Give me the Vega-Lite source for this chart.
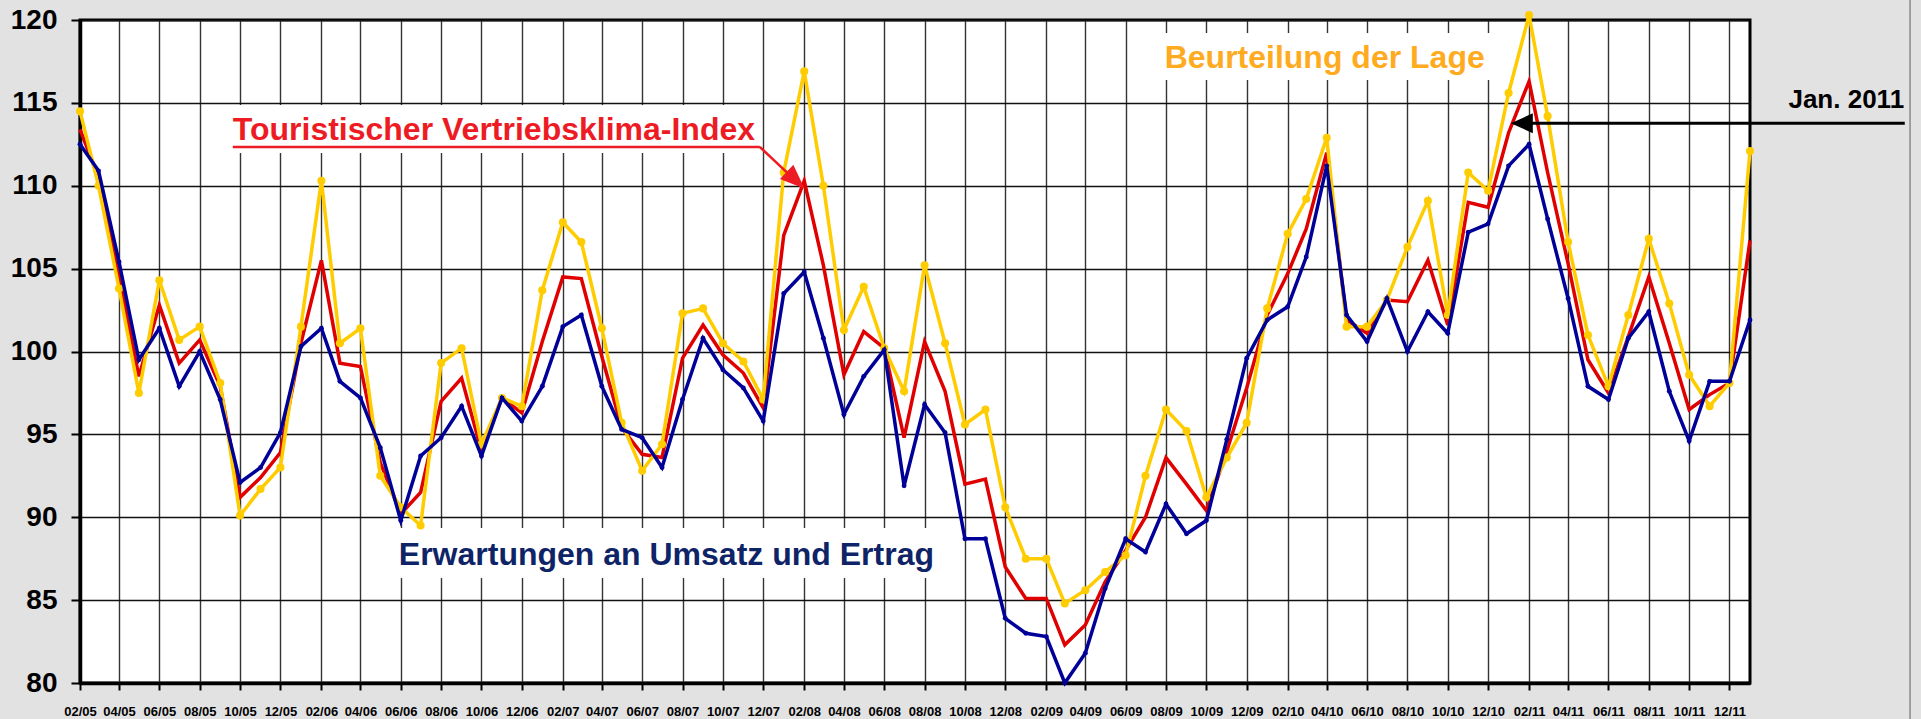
{
  "$schema": "https://vega.github.io/schema/vega-lite/v6.json",
  "width": 1670,
  "height": 663,
  "autosize": {"type": "none"},
  "padding": {"left": 80, "top": 20, "right": 171, "bottom": 36},
  "background": "#E2E2E2",
  "config": {
    "view": {"fill": "white", "stroke": "#000", "strokeWidth": 3},
    "font": "Liberation Sans"
  },
  "datasets": {
    "main": [
      {"d":"2005-02-01","lage":114.5,"index":113.4,"erw":112.5},
      {"d":"2005-03-01","lage":110.0,"index":110.5,"erw":110.9},
      {"d":"2005-04-01","lage":103.8,"index":104.5,"erw":105.4},
      {"d":"2005-05-01","lage":97.5,"index":98.5,"erw":99.5},
      {"d":"2005-06-01","lage":104.3,"index":102.8,"erw":101.4},
      {"d":"2005-07-01","lage":100.7,"index":99.3,"erw":97.9},
      {"d":"2005-08-01","lage":101.5,"index":100.7,"erw":100.0},
      {"d":"2005-09-01","lage":98.1,"index":97.9,"erw":97.1},
      {"d":"2005-10-01","lage":90.1,"index":91.2,"erw":92.1},
      {"d":"2005-11-01","lage":91.7,"index":92.4,"erw":93.0},
      {"d":"2005-12-01","lage":93.0,"index":93.9,"erw":95.1},
      {"d":"2006-01-01","lage":101.5,"index":100.5,"erw":100.3},
      {"d":"2006-02-01","lage":110.3,"index":105.5,"erw":101.4},
      {"d":"2006-03-01","lage":100.5,"index":99.3,"erw":98.2},
      {"d":"2006-04-01","lage":101.4,"index":99.1,"erw":97.2},
      {"d":"2006-05-01","lage":92.5,"index":93.3,"erw":94.2},
      {"d":"2006-06-01","lage":90.6,"index":90.2,"erw":89.8},
      {"d":"2006-07-01","lage":89.5,"index":91.5,"erw":93.7},
      {"d":"2006-08-01","lage":99.3,"index":97.0,"erw":94.8},
      {"d":"2006-09-01","lage":100.2,"index":98.4,"erw":96.7},
      {"d":"2006-10-01","lage":94.4,"index":94.0,"erw":93.7},
      {"d":"2006-11-01","lage":97.2,"index":97.2,"erw":97.2},
      {"d":"2006-12-01","lage":96.7,"index":96.3,"erw":95.8},
      {"d":"2007-01-01","lage":103.7,"index":100.6,"erw":97.9},
      {"d":"2007-02-01","lage":107.8,"index":104.5,"erw":101.5},
      {"d":"2007-03-01","lage":106.6,"index":104.4,"erw":102.2},
      {"d":"2007-04-01","lage":101.4,"index":99.7,"erw":97.9},
      {"d":"2007-05-01","lage":95.7,"index":95.4,"erw":95.3},
      {"d":"2007-06-01","lage":92.8,"index":93.8,"erw":94.8},
      {"d":"2007-07-01","lage":94.4,"index":93.6,"erw":93.0},
      {"d":"2007-08-01","lage":102.3,"index":99.6,"erw":97.1},
      {"d":"2007-09-01","lage":102.6,"index":101.6,"erw":100.8},
      {"d":"2007-10-01","lage":100.5,"index":99.8,"erw":98.9},
      {"d":"2007-11-01","lage":99.4,"index":98.7,"erw":97.8},
      {"d":"2007-12-01","lage":97.1,"index":96.6,"erw":95.8},
      {"d":"2008-01-01","lage":110.8,"index":107.0,"erw":103.5},
      {"d":"2008-02-01","lage":116.9,"index":110.3,"erw":104.8},
      {"d":"2008-03-01","lage":110.0,"index":105.2,"erw":100.8},
      {"d":"2008-04-01","lage":101.3,"index":98.6,"erw":96.2},
      {"d":"2008-05-01","lage":103.9,"index":101.2,"erw":98.5},
      {"d":"2008-06-01","lage":100.2,"index":100.2,"erw":100.1},
      {"d":"2008-07-01","lage":97.6,"index":94.8,"erw":91.9},
      {"d":"2008-08-01","lage":105.2,"index":100.6,"erw":96.8},
      {"d":"2008-09-01","lage":100.5,"index":97.6,"erw":95.1},
      {"d":"2008-10-01","lage":95.6,"index":92.0,"erw":88.7},
      {"d":"2008-11-01","lage":96.5,"index":92.3,"erw":88.7},
      {"d":"2008-12-01","lage":90.6,"index":87.0,"erw":83.9},
      {"d":"2009-01-01","lage":87.5,"index":85.1,"erw":83.0},
      {"d":"2009-02-01","lage":87.5,"index":85.1,"erw":82.8},
      {"d":"2009-03-01","lage":84.8,"index":82.3,"erw":80.0},
      {"d":"2009-04-01","lage":85.6,"index":83.5,"erw":81.8},
      {"d":"2009-05-01","lage":86.7,"index":86.1,"erw":85.7},
      {"d":"2009-06-01","lage":87.7,"index":88.0,"erw":88.7},
      {"d":"2009-07-01","lage":92.5,"index":90.0,"erw":87.9},
      {"d":"2009-08-01","lage":96.5,"index":93.6,"erw":90.8},
      {"d":"2009-09-01","lage":95.2,"index":92.0,"erw":89.0},
      {"d":"2009-10-01","lage":91.2,"index":90.4,"erw":89.8},
      {"d":"2009-11-01","lage":93.6,"index":94.0,"erw":94.7},
      {"d":"2009-12-01","lage":95.7,"index":97.8,"erw":99.6},
      {"d":"2010-01-01","lage":102.6,"index":102.2,"erw":101.9},
      {"d":"2010-02-01","lage":107.1,"index":104.7,"erw":102.7},
      {"d":"2010-03-01","lage":109.2,"index":107.4,"erw":105.7},
      {"d":"2010-04-01","lage":112.9,"index":112.0,"erw":111.2},
      {"d":"2010-05-01","lage":101.5,"index":101.9,"erw":102.2},
      {"d":"2010-06-01","lage":101.5,"index":101.1,"erw":100.6},
      {"d":"2010-07-01","lage":103.1,"index":103.1,"erw":103.2},
      {"d":"2010-08-01","lage":106.3,"index":103.0,"erw":100.0},
      {"d":"2010-09-01","lage":109.1,"index":105.5,"erw":102.4},
      {"d":"2010-10-01","lage":102.2,"index":101.6,"erw":101.1},
      {"d":"2010-11-01","lage":110.8,"index":109.0,"erw":107.2},
      {"d":"2010-12-01","lage":109.7,"index":108.7,"erw":107.7},
      {"d":"2011-01-01","lage":115.6,"index":113.2,"erw":111.2},
      {"d":"2011-02-01","lage":120.3,"index":116.3,"erw":112.5},
      {"d":"2011-03-01","lage":114.2,"index":110.8,"erw":108.0},
      {"d":"2011-04-01","lage":106.6,"index":105.3,"erw":103.2},
      {"d":"2011-05-01","lage":101.0,"index":99.5,"erw":97.9},
      {"d":"2011-06-01","lage":97.9,"index":97.5,"erw":97.1},
      {"d":"2011-07-01","lage":102.2,"index":100.9,"erw":100.8},
      {"d":"2011-08-01","lage":106.8,"index":104.5,"erw":102.4},
      {"d":"2011-09-01","lage":102.9,"index":100.5,"erw":97.6},
      {"d":"2011-10-01","lage":98.6,"index":96.5,"erw":94.6},
      {"d":"2011-11-01","lage":96.7,"index":97.4,"erw":98.2},
      {"d":"2011-12-01","lage":98.1,"index":98.1,"erw":98.2},
      {"d":"2012-01-01","lage":112.1,"index":106.7,"erw":101.9}
    ]
  },
  "encoding": {
    "x": {
      "field": "d",
      "type": "temporal",
      "title": null,
      "scale": {
        "type": "utc",
        "domain": [
          {"year": 2005, "month": 2, "date": 1, "utc": true},
          {"year": 2012, "month": 1, "date": 1, "utc": true}
        ],
        "nice": false
      },
      "axis": {
        "values": [
          {"year":2005,"month":2,"date":1,"utc":true},{"year":2005,"month":4,"date":1,"utc":true},{"year":2005,"month":6,"date":1,"utc":true},{"year":2005,"month":8,"date":1,"utc":true},{"year":2005,"month":10,"date":1,"utc":true},{"year":2005,"month":12,"date":1,"utc":true},
          {"year":2006,"month":2,"date":1,"utc":true},{"year":2006,"month":4,"date":1,"utc":true},{"year":2006,"month":6,"date":1,"utc":true},{"year":2006,"month":8,"date":1,"utc":true},{"year":2006,"month":10,"date":1,"utc":true},{"year":2006,"month":12,"date":1,"utc":true},
          {"year":2007,"month":2,"date":1,"utc":true},{"year":2007,"month":4,"date":1,"utc":true},{"year":2007,"month":6,"date":1,"utc":true},{"year":2007,"month":8,"date":1,"utc":true},{"year":2007,"month":10,"date":1,"utc":true},{"year":2007,"month":12,"date":1,"utc":true},
          {"year":2008,"month":2,"date":1,"utc":true},{"year":2008,"month":4,"date":1,"utc":true},{"year":2008,"month":6,"date":1,"utc":true},{"year":2008,"month":8,"date":1,"utc":true},{"year":2008,"month":10,"date":1,"utc":true},{"year":2008,"month":12,"date":1,"utc":true},
          {"year":2009,"month":2,"date":1,"utc":true},{"year":2009,"month":4,"date":1,"utc":true},{"year":2009,"month":6,"date":1,"utc":true},{"year":2009,"month":8,"date":1,"utc":true},{"year":2009,"month":10,"date":1,"utc":true},{"year":2009,"month":12,"date":1,"utc":true},
          {"year":2010,"month":2,"date":1,"utc":true},{"year":2010,"month":4,"date":1,"utc":true},{"year":2010,"month":6,"date":1,"utc":true},{"year":2010,"month":8,"date":1,"utc":true},{"year":2010,"month":10,"date":1,"utc":true},{"year":2010,"month":12,"date":1,"utc":true},
          {"year":2011,"month":2,"date":1,"utc":true},{"year":2011,"month":4,"date":1,"utc":true},{"year":2011,"month":6,"date":1,"utc":true},{"year":2011,"month":8,"date":1,"utc":true},{"year":2011,"month":10,"date":1,"utc":true},{"year":2011,"month":12,"date":1,"utc":true}
        ],
        "format": "%m/%y",
        "labelFont": "Liberation Sans",
        "labelFontWeight": "bold",
        "labelFontSize": 13,
        "labelColor": "#000",
        "labelPadding": 15,
        "labelOverlap": false,
        "labelFlush": false,
        "labelBound": false,
        "tickSize": 7,
        "tickWidth": 2,
        "tickColor": "#000",
        "domainColor": "#000",
        "domainWidth": 3.5,
        "grid": true,
        "gridColor": "#333",
        "gridWidth": 1.4
      }
    },
    "y": {
      "type": "quantitative",
      "title": null,
      "scale": {"domain": [80, 120], "nice": false, "zero": false},
      "axis": {
        "values": [80, 85, 90, 95, 100, 105, 110, 115, 120],
        "labelFont": "Liberation Sans",
        "labelFontWeight": "bold",
        "labelFontSize": 28,
        "labelColor": "#000",
        "labelPadding": 14,
        "tickSize": 9,
        "tickWidth": 2,
        "tickColor": "#000",
        "domainColor": "#000",
        "domainWidth": 3.5,
        "grid": true,
        "gridColor": "#111",
        "gridWidth": 1.4
      }
    }
  },
  "layer": [
    {
      "data": {"values": [
        {"x": "2005-09-08", "x2": "2007-11-29", "y": 114.87, "y2": 111.98},
        {"x": "2009-07-23", "x2": "2010-12-04", "y": 119.22, "y2": 116.38},
        {"x": "2006-05-22", "x2": "2008-08-17", "y": 89.35, "y2": 86.33}
      ]},
      "mark": {"type": "rect", "fill": "white", "stroke": null},
      "encoding": {
        "x": {"field": "x", "type": "temporal"},
        "x2": {"field": "x2"},
        "y": {"field": "y", "type": "quantitative"},
        "y2": {"field": "y2"}
      }
    },
    {
      "data": {"values": [{"x": "2012-08-30", "y": 77.8, "y2": 121.3}]},
      "mark": {"type": "rule", "color": "#8A8A8A", "strokeWidth": 1.5},
      "encoding": {
        "x": {"field": "x", "type": "temporal"},
        "y": {"field": "y", "type": "quantitative"},
        "y2": {"field": "y2"}
      }
    },
    {
      "data": {"name": "main"},
      "mark": {"type": "line", "color": "#E00000", "strokeWidth": 3.5},
      "encoding": {"y": {"field": "index", "type": "quantitative"}}
    },
    {
      "data": {"name": "main"},
      "mark": {"type": "line", "color": "#FFCC00", "strokeWidth": 3.5, "point": {"filled": true, "size": 65, "color": "#FFCC00", "opacity": 1}},
      "encoding": {"y": {"field": "lage", "type": "quantitative"}}
    },
    {
      "data": {"name": "main"},
      "mark": {"type": "line", "color": "#000099", "strokeWidth": 3.5, "point": {"filled": true, "size": 24, "color": "#000099", "opacity": 1}},
      "encoding": {"y": {"field": "erw", "type": "quantitative"}}
    },
    {
      "data": {"values": [{"x": "2005-09-20", "y": 112.76, "t": "Touristischer Vertriebsklima-Index"}]},
      "mark": {"type": "text", "align": "left", "baseline": "alphabetic", "font": "Liberation Sans", "fontWeight": "bold", "fontSize": 32, "color": "#ED1C24"},
      "encoding": {
        "x": {"field": "x", "type": "temporal"},
        "y": {"field": "y", "type": "quantitative"},
        "text": {"field": "t"}
      }
    },
    {
      "data": {"values": [{"x": "2005-09-20", "x2": "2007-11-26", "y": 112.34}]},
      "mark": {"type": "rule", "color": "#ED1C24", "strokeWidth": 2.5},
      "encoding": {
        "x": {"field": "x", "type": "temporal"},
        "x2": {"field": "x2"},
        "y": {"field": "y", "type": "quantitative"}
      }
    },
    {
      "data": {"values": [{"x": "2007-11-26", "x2": "2008-01-13", "y": 112.34, "y2": 110.54}]},
      "mark": {"type": "rule", "color": "#ED1C24", "strokeWidth": 2.5},
      "encoding": {
        "x": {"field": "x", "type": "temporal"},
        "x2": {"field": "x2"},
        "y": {"field": "y", "type": "quantitative"},
        "y2": {"field": "y2"}
      }
    },
    {
      "data": {"values": [{"x": "2008-01-19", "y": 110.33}]},
      "mark": {"type": "point", "shape": "M 1 0 L -1 -0.8 L -1 0.8 Z", "filled": true, "size": 600, "angle": 43, "color": "#ED1C24", "opacity": 1},
      "encoding": {
        "x": {"field": "x", "type": "temporal"},
        "y": {"field": "y", "type": "quantitative"}
      }
    },
    {
      "data": {"values": [{"x": "2009-07-30", "y": 117.1, "t": "Beurteilung der Lage"}]},
      "mark": {"type": "text", "align": "left", "baseline": "alphabetic", "font": "Liberation Sans", "fontWeight": "bold", "fontSize": 32, "color": "#FFAB1F"},
      "encoding": {
        "x": {"field": "x", "type": "temporal"},
        "y": {"field": "y", "type": "quantitative"},
        "text": {"field": "t"}
      }
    },
    {
      "data": {"values": [{"x": "2006-05-29", "y": 87.12, "t": "Erwartungen an Umsatz und Ertrag"}]},
      "mark": {"type": "text", "align": "left", "baseline": "alphabetic", "font": "Liberation Sans", "fontWeight": "bold", "fontSize": 32, "color": "#0E2466"},
      "encoding": {
        "x": {"field": "x", "type": "temporal"},
        "y": {"field": "y", "type": "quantitative"},
        "text": {"field": "t"}
      }
    },
    {
      "data": {"values": [{"x": "2012-08-21", "y": 114.69, "t": "Jan. 2011"}]},
      "mark": {"type": "text", "align": "right", "baseline": "alphabetic", "font": "Liberation Sans", "fontWeight": "bold", "fontSize": 26, "color": "#000"},
      "encoding": {
        "x": {"field": "x", "type": "temporal"},
        "y": {"field": "y", "type": "quantitative"},
        "text": {"field": "t"}
      }
    },
    {
      "data": {"values": [{"x": "2011-01-26", "x2": "2012-08-22", "y": 113.77}]},
      "mark": {"type": "rule", "color": "#000", "strokeWidth": 3},
      "encoding": {
        "x": {"field": "x", "type": "temporal"},
        "x2": {"field": "x2"},
        "y": {"field": "y", "type": "quantitative"}
      }
    },
    {
      "data": {"values": [{"x": "2011-01-21", "y": 113.77}]},
      "mark": {"type": "point", "shape": "M -1 0 L 1 -0.9 L 1 0.9 Z", "filled": true, "size": 484, "color": "#000", "opacity": 1},
      "encoding": {
        "x": {"field": "x", "type": "temporal"},
        "y": {"field": "y", "type": "quantitative"}
      }
    }
  ]
}
